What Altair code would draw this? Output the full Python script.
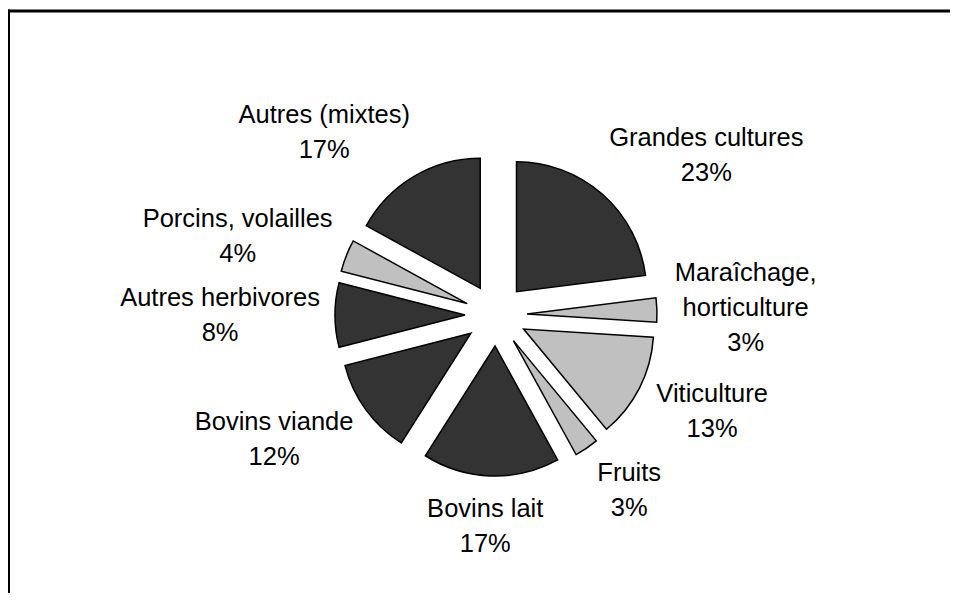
import math
import altair as alt
import pandas as pd

# ---------------- data ----------------
categories = [
    "Grandes cultures", "Maraîchage, horticulture", "Viticulture", "Fruits",
    "Bovins lait", "Bovins viande", "Autres herbivores", "Porcins, volailles",
    "Autres (mixtes)",
]
values = [23, 3, 13, 3, 17, 12, 8, 4, 17]
label_names = [
    "Grandes cultures", "Maraîchage,\nhorticulture", "Viticulture", "Fruits",
    "Bovins lait", "Bovins viande", "Autres herbivores", "Porcins, volailles",
    "Autres (mixtes)",
]

# ---------------- style / layout ----------------
DARK, LIGHT = "#333333", "#c0c0c0"
slice_colors = [DARK, LIGHT, LIGHT, LIGHT, DARK, DARK, DARK, LIGHT, DARK]
FONT = "Liberation Sans"
FONT_SIZE = 25.5
LINE_HEIGHT = 35
CAP = 17
RADIUS = 130        # px
EXPLODE = 31        # px, offset of each slice from the centre
LABEL_R = 186       # px, distance of label anchor from centre
PLOT_W, PLOT_H = 942, 585
CX, CY = 488, 307   # pie centre inside the plot area (px)

ARIAL = {
    "A": 667, "B": 667, "F": 611, "G": 778, "M": 833, "P": 667, "V": 667,
    "a": 556, "b": 556, "c": 500, "d": 556, "e": 556, "g": 556, "h": 556,
    "i": 222, "î": 278, "l": 222, "m": 833, "n": 556, "o": 556, "r": 333,
    "s": 500, "t": 278, "u": 556, "v": 500, "x": 500, " ": 278, "(": 333,
    ")": 333, ",": 278, "%": 889,
}


def text_width(s):
    return sum(ARIAL.get(ch, 556) for ch in s) / 1000 * FONT_SIZE


total = sum(values)
rows = []
cum = 0.0
for cat, val, name in zip(categories, values, label_names):
    start = cum / total * 100
    cum += val
    end = cum / total * 100
    mid = (start + end) / 2 / 100 * 2 * math.pi
    s, c = math.sin(mid), math.cos(mid)
    text = f"{name}\n{round(val / total * 100)}%"
    lines = text.split("\n")
    w = max(text_width(l) for l in lines)
    h2 = (len(lines) - 1) * LINE_HEIGHT / 2 + CAP / 2
    lx = LABEL_R * s + 0.9 * (w / 2) * max(-1.0, min(1.0, 3 * s))
    # block centre, then shift up to the first line (Vega anchors the first line)
    ly = c * (LABEL_R + h2) + (len(lines) - 1) * LINE_HEIGHT / 2
    rows.append({
        "categorie": cat, "valeur": val, "start": start, "end": end,
        "cx": EXPLODE * s / RADIUS, "cy": EXPLODE * c / RADIUS,
        "lx": lx / RADIUS, "ly": ly / RADIUS, "label": text,
    })

df = pd.DataFrame(rows)

xscale = alt.Scale(domain=[-CX / RADIUS, (PLOT_W - CX) / RADIUS], nice=False, zero=False)
yscale = alt.Scale(domain=[(CY - PLOT_H) / RADIUS, CY / RADIUS], nice=False, zero=False)

base = alt.Chart(df)

arcs = base.mark_arc(radius=RADIUS, stroke="black", strokeWidth=1.5).encode(
    theta=alt.Theta("start:Q", stack=None,
                    scale=alt.Scale(domain=[0, 100], range=[0, 2 * math.pi])),
    theta2="end:Q",
    x=alt.X("cx:Q", scale=xscale, axis=None),
    y=alt.Y("cy:Q", scale=yscale, axis=None),
    color=alt.Color("categorie:N", scale=alt.Scale(domain=categories, range=slice_colors),
                    legend=None),
)

labels = base.mark_text(
    font=FONT, fontSize=FONT_SIZE, lineBreak="\n", lineHeight=LINE_HEIGHT,
    align="center", baseline="middle", color="black",
).encode(
    x=alt.X("lx:Q", scale=xscale, axis=None),
    y=alt.Y("ly:Q", scale=yscale, axis=None),
    text="label:N",
)

frame_src = alt.Chart(pd.DataFrame({"cadre": [0]}))
frame_top = frame_src.mark_rule(color="black", strokeWidth=3).encode(
    x=alt.value(0), x2=alt.value(PLOT_W), y=alt.value(3)
)
frame_left = frame_src.mark_rule(color="black", strokeWidth=3).encode(
    x=alt.value(0.5), y=alt.value(1.5), y2=alt.value(PLOT_H)
)

chart = alt.layer(arcs, labels, frame_top, frame_left).properties(
    width=PLOT_W, height=PLOT_H,
    padding={"left": 0, "top": 0, "right": 0, "bottom": 0},
    autosize="none",
).configure_view(stroke=None)

chart.save("out.html", embed_options={"renderer": "svg", "actions": False})
